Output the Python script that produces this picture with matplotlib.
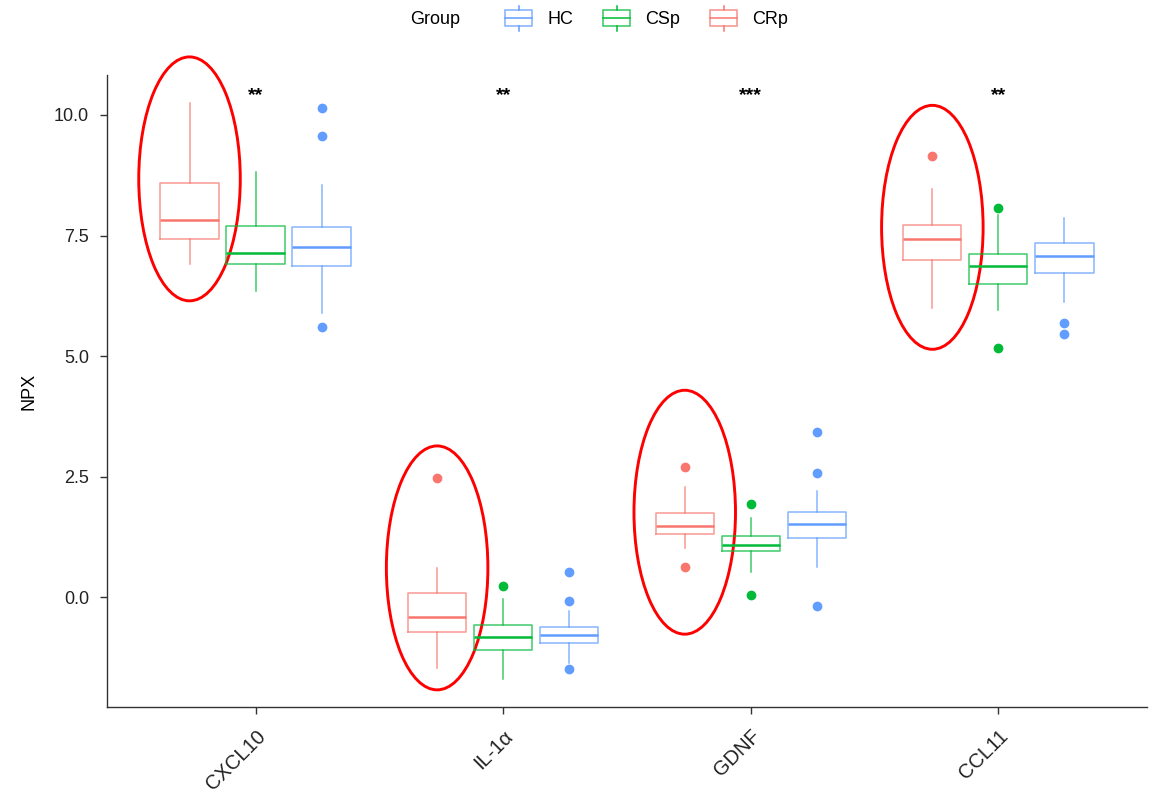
import matplotlib
matplotlib.use("Agg")
import matplotlib.pyplot as plt
from matplotlib.patches import Ellipse, Rectangle
from matplotlib.lines import Line2D
from matplotlib.legend_handler import HandlerBase

plt.rcParams['font.family'] = ['Liberation Sans', 'DejaVu Sans']

proteins = ['CXCL10', 'IL-1α', 'GDNF', 'CCL11']
groups = ['CRp', 'CSp', 'HC']
colors = {'CRp': '#F8766D', 'CSp': '#00BA38', 'HC': '#619CFF'}
signif = ['**', '**', '***', '**']

# per protein: lower whisker, Q1, median, Q3, upper whisker
crp_stats = [[6.90, 7.42, 7.82, 8.59, 10.25],
             [-1.47, -0.73, -0.41, 0.08, 0.61],
             [1.02, 1.30, 1.48, 1.75, 2.29],
             [5.99, 6.99, 7.43, 7.72, 8.46]]
crp_out = [[], [2.48], [2.69, 0.63], [9.15]]

csp_stats = [[6.35, 6.91, 7.14, 7.70, 8.82],
             [-1.70, -1.09, -0.83, -0.59, -0.03],
             [0.52, 0.96, 1.09, 1.26, 1.65],
             [5.95, 6.49, 6.87, 7.11, 7.93]]
csp_out = [[], [0.23], [1.94, 0.04], [8.08, 5.17]]

hc_stats = [[5.90, 6.86, 7.26, 7.68, 8.55],
            [-1.36, -0.95, -0.79, -0.63, -0.29],
            [0.62, 1.23, 1.52, 1.76, 2.21],
            [6.13, 6.73, 7.08, 7.34, 7.86]]
hc_out = [[10.15, 9.57, 5.60], [0.53, -0.09, -1.49], [3.42, 2.58, -0.18], [5.68, 5.45]]

stats = {'CRp': crp_stats, 'CSp': csp_stats, 'HC': hc_stats}
outliers = {'CRp': crp_out, 'CSp': csp_out, 'HC': hc_out}


class BoxHandler(HandlerBase):
    def create_artists(self, legend, orig_handle, xdescent, ydescent,
                       width, height, fontsize, trans):
        c = orig_handle.get_color()
        x0, y0 = -xdescent, -ydescent
        rect = Rectangle((x0, y0), width, height, fill=False, ec=c, lw=1.1, alpha=0.8)
        med = Line2D([x0, x0 + width], [y0 + 0.5 * height] * 2, color=c, lw=1.1)
        top = Line2D([x0 + 0.5 * width] * 2, [y0 + height, y0 + 1.28 * height], color=c, lw=1.1)
        bot = Line2D([x0 + 0.5 * width] * 2, [y0 - 0.28 * height, y0], color=c, lw=1.1)
        arts = [rect, med, top, bot]
        for a in arts:
            a.set_transform(trans)
        return arts


fig = plt.figure(figsize=(11.59, 8.02), dpi=100)
ax = fig.add_axes([0.0923, 0.1185, 0.8973, 0.788])

dodge = 0.8 / 3
for gi, g in enumerate(groups):
    c = colors[g]
    bxp_data = []
    for pi in range(len(proteins)):
        lo, q1, med, q3, hi = stats[g][pi]
        bxp_data.append({'whislo': lo, 'q1': q1, 'med': med, 'q3': q3, 'whishi': hi,
                         'fliers': outliers[g][pi]})
    pos = [pi + 1 + (gi - 1) * dodge for pi in range(len(proteins))]
    ax.bxp(bxp_data, positions=pos, widths=0.235, showcaps=False, patch_artist=False,
           boxprops=dict(color=c, lw=1.1, alpha=0.75),
           whiskerprops=dict(color=c, lw=1.1, alpha=0.75),
           medianprops=dict(color=c, lw=1.8),
           flierprops=dict(marker='o', markerfacecolor=c, markeredgecolor=c, markersize=6))

# significance stars
all_vals = [v for g in groups for s in stats[g] for v in s] + \
           [v for g in groups for o in outliers[g] for v in o]
star_y = max(all_vals) + 0.15
for pi, s in enumerate(signif):
    ax.text(pi + 1, star_y, s, ha='center', va='center', fontsize=14, fontweight='bold')

# red highlight ellipses around CRp
for pi in range(len(proteins)):
    vals = crp_stats[pi] + crp_out[pi]
    cy = (min(vals) + max(vals)) / 2 + 0.1
    ax.add_patch(Ellipse((pi + 1 - dodge, cy), 0.41, 5.06, fill=False, ec='#FF0000',
                         lw=2.1, clip_on=False))

ax.set_xlim(0.4, 4.6)
ax.set_ylim(-2.28, 10.83)
ax.set_xticks(range(1, len(proteins) + 1))
ax.set_xticklabels(proteins, rotation=45, ha='right', va='top', rotation_mode='anchor', fontsize=14.5)
ax.set_yticks([0, 2.5, 5, 7.5, 10])
ax.set_yticklabels(['0.0', '2.5', '5.0', '7.5', '10.0'], fontsize=13)
ax.set_ylabel('NPX', fontsize=13, labelpad=12)
for side in ['top', 'right']:
    ax.spines[side].set_visible(False)
for side in ['left', 'bottom']:
    ax.spines[side].set_color('#333333')
    ax.spines[side].set_linewidth(1.0)
ax.tick_params(colors='#333333', length=5, width=1.0, labelcolor='#222222')
ax.tick_params(axis='x', pad=9)
ax.tick_params(axis='y', pad=8)

handles = [Line2D([], [], color=colors[g], label=g) for g in ['HC', 'CSp', 'CRp']]
fig.text(0.354, 0.976, 'Group', fontsize=13, va='center')
fig.legend(handles=handles, handler_map={Line2D: BoxHandler()}, loc='center',
           bbox_to_anchor=(0.558, 0.976), ncol=3, frameon=False, fontsize=13,
           handlelength=1.5, handleheight=1.0, columnspacing=1.67, handletextpad=0.83)

fig.savefig('out.png', dpi=100)
